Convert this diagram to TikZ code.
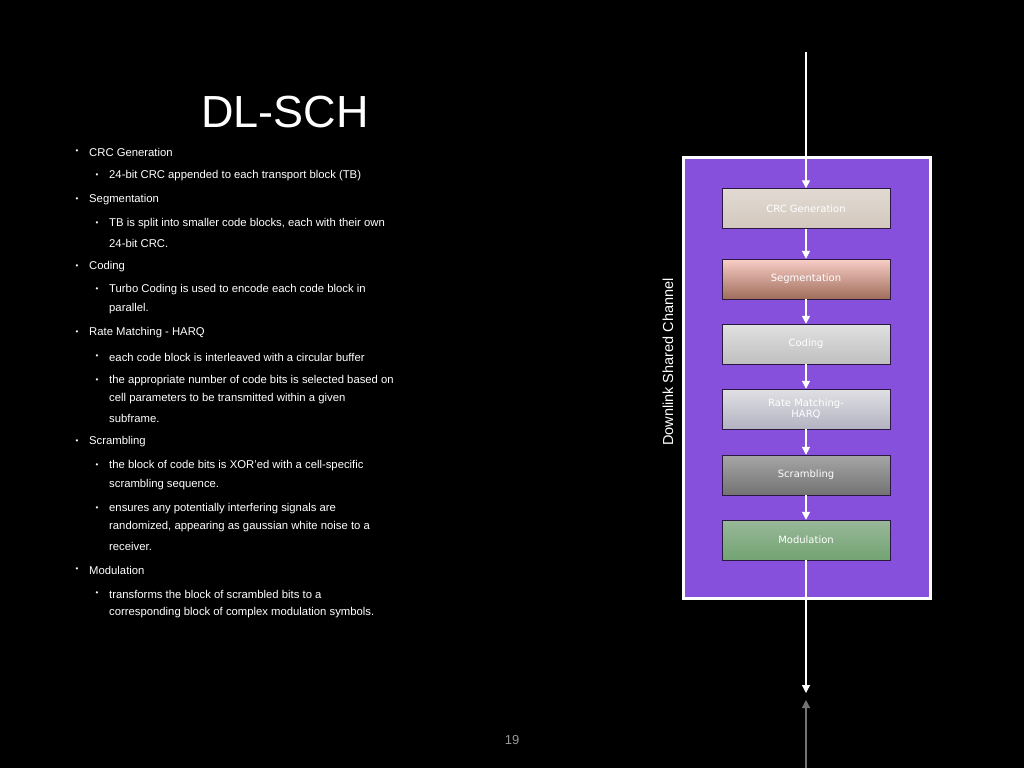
\documentclass[tikz,border=0pt]{standalone}
\usepackage{fontspec}
\setmainfont{Liberation Sans}
\newfontfamily\boxfont{DejaVu Sans}
\usetikzlibrary{arrows.meta}
\definecolor{purp}{HTML}{8650DC}
\tikzset{
 blk/.style={draw=black!70!purp,minimum width=168pt,minimum height=40pt,inner sep=0pt,align=center,text=white,font=\boxfont\fontsize{10}{11}\selectfont},
 ar/.style={draw=white,line width=1.3pt,-{Triangle[length=8pt,width=8pt]}},
 lone/.style={anchor=west,inner sep=0pt,text=white,font=\fontsize{11.3}{13}\selectfont},
 bul/.style={anchor=center,inner sep=0pt,text=white,font=\fontsize{8}{9}\selectfont},
}
\begin{document}
\begin{tikzpicture}[x=1pt,y=-1pt]
\fill[black] (0,0) rectangle (1024,768);
\useasboundingbox (0,0) rectangle (1024,768);
\node[text=white,font=\fontsize{45}{50}\selectfont,inner sep=0pt] (title) at (285,112) {DL-SCH};
% bullets
\foreach \y/\lvl/\t in {
152/1/CRC Generation,
176/2/{24-bit CRC appended to each transport block (TB)},
200/1/Segmentation,
224/2/{TB is split into smaller code blocks, each with their own},
243/0/{24-bit CRC.},
267/1/Coding,
290/2/{Turbo Coding is used to encode each code block in},
309/0/parallel.,
333/1/Rate Matching - HARQ,
357/2/each code block is interleaved with a circular buffer,
381/2/the appropriate number of code bits is selected based on,
399/0/cell parameters to be transmitted within a given,
418/0/subframe.,
442/1/Scrambling,
466/2/{the block of code bits is XOR'ed with a cell-specific},
485/0/scrambling sequence.,
509/2/ensures any potentially interfering signals are,
527/0/{randomized, appearing as gaussian white noise to a},
546/0/receiver.,
570/1/Modulation,
594/2/transforms the block of scrambled bits to a,
613/0/corresponding block of complex modulation symbols.}{
 \ifnum\lvl=1 \node[bul] at (77,\y) {•}; \node[lone] at (89,\y) {\t};\fi
 \ifnum\lvl=2 \node[bul] at (97,\y) {•}; \node[lone] at (109,\y) {\t};\fi
 \ifnum\lvl=0 \node[lone] at (109,\y) {\t};\fi
}
% diagram
\draw[white,line width=3pt,fill=purp] (683,157) rectangle (930,598);
\node[rotate=90,text=white,font=\fontsize{14.5}{16}\selectfont] (lbl) at (668,362) {Downlink Shared Channel};
\coordinate (top) at (806,52);
\coordinate (bot) at (806,693);
\coordinate (gb) at (806,768);
\coordinate (gt) at (806,700);
\node[blk,top color=black!30!white!70!brown!40,bottom color=black!45!brown!30!white] (crc) at (806,208.5) {CRC Generation};
\node[blk,top color=brown!40!red!30!white!80,bottom color=brown!70!red!60!white!70!black] (seg) at (806,279) {Segmentation};
\node[blk,top color=black!12,bottom color=black!25] (cod) at (806,344) {Coding};
\node[blk,top color=blue!10!black!12,bottom color=blue!20!black!30] (rm) at (806,409) {Rate Matching-\\HARQ};
\node[blk,top color=black!35,bottom color=black!55] (scr) at (806,475) {Scrambling};
\node[blk,top color=green!30!black!40,bottom color=green!35!black!55] (mod) at (806,540) {Modulation};
\draw[ar] (top) -- (crc);
\draw[ar] (crc) -- (seg);
\draw[ar] (seg) -- (cod);
\draw[ar] (cod) -- (rm);
\draw[ar] (rm) -- (scr);
\draw[ar] (scr) -- (mod);
\draw[ar] (mod) -- (bot);
\draw[ar,draw=black!55] (gb) -- (gt);
\node[text=black!40,font=\fontsize{13}{15}\selectfont] (pg) at (512,740) {19};
\end{tikzpicture}
\end{document}
